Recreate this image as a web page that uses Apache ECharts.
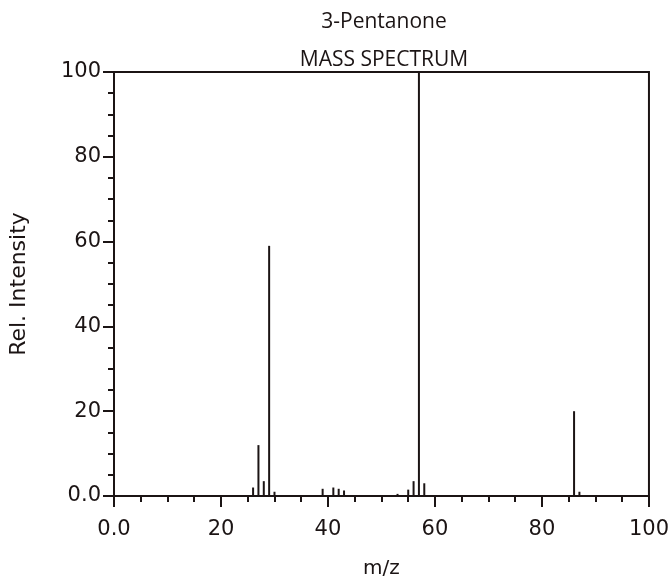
<!DOCTYPE html>
<html>
<head>
<meta charset="utf-8">
<script src="https://cdn.jsdelivr.net/npm/echarts@6/dist/echarts.min.js"></script>
<style>
  html, body { margin: 0; padding: 0; background: #ffffff; }
  #spectrum { width: 672px; height: 584px; }
</style>
</head>
<body>
<div id="spectrum"></div>
<script>
// peaks
const mzValues = [26, 27, 28, 29, 30, 39, 41, 42, 43, 53, 55, 56, 57, 58, 86, 87];
const relIntensity = [2, 12, 3.5, 59, 1, 1.7, 2, 1.7, 1.3, 0.5, 1.5, 3.5, 100, 3, 20, 1];
const titleLines = ['3-Pentanone', 'MASS SPECTRUM'];

let chart = echarts.init(document.getElementById('spectrum'));
const ink = '#1b1414';
const font = 'DejaVu Sans';

chart.setOption({
  backgroundColor: '#ffffff',
  animation: false,
  title: {
    text: titleLines.join('\n'),
    left: 379,
    top: -2,
    textAlign: 'center',
    textStyle: {
      fontFamily: 'Open Sans',
      fontSize: 21,
      fontWeight: 'normal',
      color: ink,
      lineHeight: 38
    }
  },
  grid: {
    left: 113,
    top: 72,
    width: 538,
    height: 424,
    show: true,
    borderColor: ink,
    borderWidth: 2
  },
  xAxis: {
    type: 'value',
    min: 0,
    max: 100,
    interval: 20,
    name: 'm/z',
    nameLocation: 'middle',
    nameGap: 63,
    nameTextStyle: { fontFamily: font, fontSize: 20, color: ink },
    axisLine: { show: true, lineStyle: { color: ink, width: 2 } },
    axisTick: { show: true, length: 11, lineStyle: { color: ink, width: 2 } },
    minorTick: { show: true, splitNumber: 4, length: 6, lineStyle: { color: ink, width: 2 } },
    splitLine: { show: false },
    axisLabel: {
      margin: 23,
      fontFamily: font,
      fontSize: 21,
      color: ink,
      formatter: function (v) { return v === 0 ? '0.0' : String(v); }
    }
  },
  yAxis: {
    type: 'value',
    min: 0,
    max: 100,
    interval: 20,
    name: 'Rel. Intensity',
    nameLocation: 'middle',
    nameGap: 84,
    nameTextStyle: { fontFamily: font, fontSize: 22, color: ink },
    axisLine: { show: true, lineStyle: { color: ink, width: 2 } },
    axisTick: { show: true, length: 11, lineStyle: { color: ink, width: 2 } },
    minorTick: { show: true, splitNumber: 4, length: 6, lineStyle: { color: ink, width: 2 } },
    splitLine: { show: false },
    axisLabel: {
      margin: 13,
      fontFamily: font,
      fontSize: 21,
      color: ink,
      formatter: function (v) { return v === 0 ? '0.0' : String(v); }
    }
  },
  series: [
    {
      name: 'peaks',
      type: 'bar',
      barWidth: 2,
      itemStyle: { color: ink },
      data: mzValues.map(function (m, i) { return [m, relIntensity[i]]; })
    }
  ]
});
</script>
</body>
</html>
